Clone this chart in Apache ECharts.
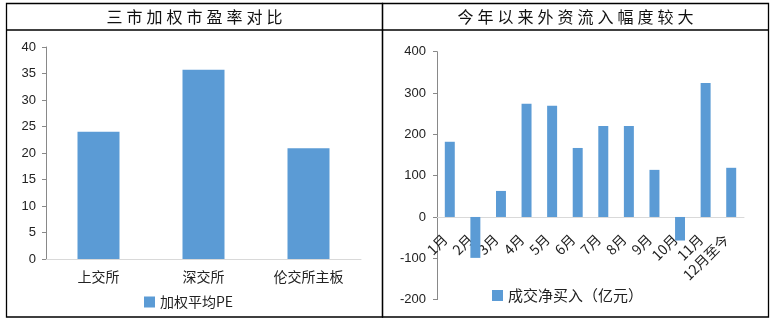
<!DOCTYPE html>
<html>
<head>
<meta charset="utf-8">
<script src="https://cdn.jsdelivr.net/npm/echarts@6/dist/echarts.min.js"></script>
<style>
  html, body { margin: 0; padding: 0; background: #fff; }
  #chart { width: 773px; height: 322px; }
</style>
</head>
<body>
<div id="chart"></div>
<script>
// Left panel: weighted P/E of three exchanges
const peTitle = '三市加权市盈率对比';
const peCategories = ['上交所', '深交所', '伦交所主板'];
const peSeriesName = '加权平均PE';
const peValues = [24.0, 35.7, 20.9];

// Right panel: monthly net foreign buying
const flowTitle = '今年以来外资流入幅度较大';
const flowCategories = ['1月', '2月', '3月', '4月', '5月', '6月', '7月', '8月', '9月', '10月', '11月', '12月至今'];
const flowSeriesName = '成交净买入（亿元）';
const flowValues = [182, -99, 63, 274, 269, 167, 220, 220, 114, -57, 324, 119];

const BAR = '#5B9BD5';
const NUM_FONT = '"Liberation Sans", Arial, sans-serif';
const CJK_FONT = '"Noto Sans CJK SC", sans-serif';

// spread title glyphs a little
const spaced = s => Array.from(s).join('\u2005');

const chart = echarts.init(document.getElementById('chart'), null, { renderer: 'canvas' });

const valueAxisCommon = {
  type: 'value',
  axisLine: { show: true, lineStyle: { color: '#898989', width: 1 } },
  axisTick: { show: true, inside: false, length: 4, lineStyle: { color: '#898989' } },
  splitLine: { show: false },
  axisLabel: { color: '#222', fontFamily: NUM_FONT, fontSize: 13 }
};

// right grid geometry (px); month labels sit just under the zero line
const flowGrid = { left: 437, right: 29, top: 51.7, bottom: 22.4 };
const flowMin = -200, flowMax = 400;
const plotH = 322 - flowGrid.top - flowGrid.bottom;
const zeroFromBottom = plotH * (0 - flowMin) / (flowMax - flowMin);

chart.setOption({
  animation: false,
  backgroundColor: '#fff',
  grid: [
    { left: 46, right: 412, top: 47, bottom: 63, containLabel: false, outerBoundsMode: 'none' },
    Object.assign({ containLabel: false, outerBoundsMode: 'none' }, flowGrid)
  ],
  xAxis: [
    {
      type: 'category', gridIndex: 0, data: peCategories,
      axisLine: { lineStyle: { color: '#d9d9d9', width: 1 } },
      axisTick: { show: false },
      axisLabel: { color: '#222', fontFamily: CJK_FONT, fontSize: 14, margin: 11 }
    },
    {
      type: 'category', gridIndex: 1, data: flowCategories,
      axisLine: { onZero: true, lineStyle: { color: '#d9d9d9', width: 1 } },
      axisTick: { show: false },
      axisLabel: {
        color: '#222', fontFamily: CJK_FONT, fontSize: 14, rotate: 45, interval: 0,
        margin: 15 - zeroFromBottom, padding: [0, 7, 0, 0]
      }
    }
  ],
  yAxis: [
    Object.assign({}, valueAxisCommon, {
      gridIndex: 0, min: 0, max: 40, interval: 5,
      axisLabel: Object.assign({}, valueAxisCommon.axisLabel, { margin: 10 })
    }),
    Object.assign({}, valueAxisCommon, {
      gridIndex: 1, min: flowMin, max: flowMax, interval: 100,
      axisLabel: Object.assign({}, valueAxisCommon.axisLabel, { margin: 11 })
    })
  ],
  legend: [
    {
      data: [peSeriesName], left: 144, top: 295, padding: 0,
      icon: 'rect', itemWidth: 11, itemHeight: 11, itemGap: 6,
      textStyle: { color: '#222', fontFamily: CJK_FONT, fontSize: 14 }
    },
    {
      data: [flowSeriesName], left: 492, top: 288, padding: 0,
      icon: 'rect', itemWidth: 11, itemHeight: 11, itemGap: 6,
      textStyle: { color: '#222', fontFamily: CJK_FONT, fontSize: 15 }
    }
  ],
  series: [
    {
      name: peSeriesName, type: 'bar', xAxisIndex: 0, yAxisIndex: 0,
      data: peValues, barWidth: '40%', itemStyle: { color: BAR }
    },
    {
      name: flowSeriesName, type: 'bar', xAxisIndex: 1, yAxisIndex: 1,
      data: flowValues, barWidth: '39%', itemStyle: { color: BAR }
    }
  ],
  graphic: [
    // panel frames
    { type: 'rect', shape: { x: 6.5, y: 3.5, width: 376, height: 313.5 },
      style: { fill: null, stroke: '#000', lineWidth: 1.3 }, silent: true },
    { type: 'rect', shape: { x: 382.5, y: 3.5, width: 386, height: 313.5 },
      style: { fill: null, stroke: '#000', lineWidth: 1.3 }, silent: true },
    // title separators
    { type: 'line', shape: { x1: 6.5, y1: 30, x2: 768.5, y2: 30 },
      style: { stroke: '#000', lineWidth: 1.3 }, silent: true },
    // titles
    { type: 'text', x: 194.5, y: 17,
      style: { text: spaced(peTitle), fill: '#111', font: '16px ' + CJK_FONT, align: 'center', verticalAlign: 'middle' } },
    { type: 'text', x: 575.5, y: 17,
      style: { text: spaced(flowTitle), fill: '#111', font: '16px ' + CJK_FONT, align: 'center', verticalAlign: 'middle' } }
  ]
});
</script>
</body>
</html>
